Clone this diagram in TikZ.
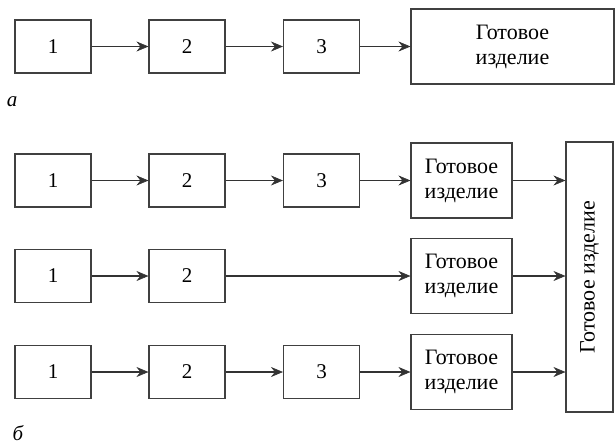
\documentclass[tikz,border=0pt]{standalone}
\usepackage{fontspec}
\setmainfont{Liberation Serif}
\usetikzlibrary{arrows.meta}
\begin{document}
\begin{tikzpicture}[x=1pt,y=-1pt,
  box/.style={draw=black!75,line width=1.1pt,inner sep=0pt,minimum width=76pt,minimum height=53pt,font=\fontsize{21}{25}\selectfont},
  gbox/.style={draw=black!75,line width=1.1pt,inner sep=0pt,minimum width=101pt,minimum height=75pt,align=center,font=\fontsize{22}{25}\selectfont},
  arr/.style={draw=black!80,line width=1.1pt,-{Stealth[length=12pt,width=10pt,inset=4pt,line width=0.6pt]}},
  lbl/.style={font=\fontsize{21}{24}\selectfont\itshape,inner sep=0pt,anchor=base}]
\useasboundingbox (0,0) rectangle (616,445);
% (a)
\node[box] (a1) at (53,46.5) {1};
\node[box] (a2) at (187,46.5) {2};
\node[box] (a3) at (321.5,46.5) {3};
\node[gbox,minimum width=203pt] (ag) at (512.5,46.5) {Готовое\\изделие};
\draw[arr] (a1) -- (a2);
\draw[arr] (a2) -- (a3);
\draw[arr] (a3) -- (ag);
\node[lbl] (la) at (12,106) {а};
% (b)
\node[box] (b11) at (53,180.5) {1};
\node[box] (b12) at (187,180.5) {2};
\node[box] (b13) at (321.5,180.5) {3};
\node[gbox] (g1) at (461.5,180.5) {Готовое\\изделие};
\node[box] (b21) at (53,276) {1};
\node[box] (b22) at (187,276) {2};
\node[gbox] (g2) at (461.5,276) {Готовое\\изделие};
\node[box] (b31) at (53,372) {1};
\node[box] (b32) at (187,372) {2};
\node[box] (b33) at (321.5,372) {3};
\node[gbox] (g3) at (461.5,372) {Готовое\\изделие};
\node[draw=black!75,line width=1.1pt,inner sep=0pt,minimum width=47pt,minimum height=270pt] (t) at (589.5,277) {};
\node[rotate=90,font=\fontsize{22}{25}\selectfont] (tt) at (t.center) {Готовое изделие};
\draw[arr] (b11) -- (b12);
\draw[arr] (b12) -- (b13);
\draw[arr] (b13) -- (g1);
\draw[arr] (b21) -- (b22);
\draw[arr] (b22) -- (g2);
\draw[arr] (b31) -- (b32);
\draw[arr] (b32) -- (b33);
\draw[arr] (b33) -- (g3);
\draw[arr] (g1.east) -- (g1.east -| t.west);
\draw[arr] (g2.east) -- (g2.east -| t.west);
\draw[arr] (g3.east) -- (g3.east -| t.west);
\node[lbl] (lb) at (18,440) {б};
\end{tikzpicture}
\end{document}
